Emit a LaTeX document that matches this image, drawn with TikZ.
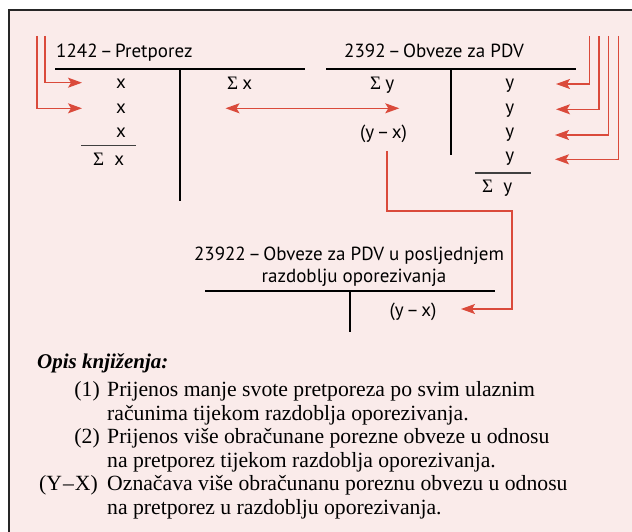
\documentclass[tikz,border=0pt]{standalone}
\usepackage{fontspec}
\setmainfont{Liberation Serif}
\newfontfamily\acctfont{PT Sans}
\newfontfamily\sigmafont{Liberation Serif}
\usetikzlibrary{arrows.meta}
\definecolor{paper}{HTML}{FAEBEA}
\definecolor{flow}{HTML}{DA4A3B}
\newcommand{\sgm}{{\sigmafont Σ}}
% tight en dash used in the account headings
\newcommand{\dsh}{\hspace{2.5pt}–\hspace{2.5pt}}

\begin{document}
\begin{tikzpicture}[x=1pt,y=-1pt,
  acct/.style={font=\acctfont\fontsize{19}{22}\selectfont, inner sep=0pt, anchor=base},
  ruling/.style={line width=1.9pt, black},
  sumrule/.style={line width=1.2pt, black!75},
  flowline/.style={draw=flow, line width=1.3pt},
  flowtip/.style={-{Stealth[length=14pt,width=10pt,inset=3pt]}},
  flowarrow/.style={flowline, flowtip},
  note/.style={font=\fontsize{21.7}{23.5}\selectfont, inner sep=0pt, anchor=base west},
]
\useasboundingbox (0,0) rectangle (632,532);
\fill[white] (0,0) rectangle (632,532);
\fill[paper] (9,10) rectangle (632,532);
\draw[line width=1.2pt, black!85] (9,532) -- (9,10) -- (632,10);

% ---- account 1242 ----
\node[acct, anchor=base west] (t1242) at (56,58) {1242\dsh Pretporez};
\draw[ruling] (55,69) -- (305,69);
\draw[ruling] (180,69) -- (180,201);
\node[acct] (x1) at (121,89) {x};
\node[acct] (x2) at (121,113.5) {x};
\node[acct] (x3) at (121,138) {x};
\draw[sumrule] (81,145.5) -- (136,145.5);
\node[acct, anchor=base west] (sumx) at (93,165) {\sgm\hspace{10pt}x};
\node[acct, anchor=base west] (credx) at (227,90) {\sgm\hspace{4pt}x};

% ---- account 2392 ----
\node[acct, anchor=base west] (t2392) at (344,58) {2392\dsh Obveze za PDV};
\draw[ruling] (326,69) -- (576,69);
\draw[ruling] (451,69) -- (451,155);
\node[acct, anchor=base west] (debity) at (370,90) {\sgm\hspace{4pt}y};
\node[acct] (diff) at (383.5,139) {(y\dsh x)};
\node[acct] (y1) at (509.7,89) {y};
\node[acct] (y2) at (509.7,113.5) {y};
\node[acct] (y3) at (509.7,138) {y};
\node[acct] (y4) at (509.7,162) {y};
\draw[sumrule] (475,173) -- (531,173);
\node[acct, anchor=base west] (sumy) at (482,193) {\sgm\hspace{10pt}y};

% ---- account 23922 ----
\node[acct] (t23922a) at (349,260) {23922\dsh Obveze za PDV u posljednjem};
\node[acct] (t23922b) at (354,282) {razdoblju oporezivanja};
\draw[ruling] (205,291) -- (495,291);
\draw[ruling] (350,291) -- (350,332);
\node[acct] (diff2) at (413,316) {(y\dsh x)};

% ---- flows ----
\coordinate (inA) at (37,36);   \coordinate (tipA) at (82,108.3);
\coordinate (inB) at (45,36);   \coordinate (tipB) at (82,82.7);
\draw[flowarrow] (inA) |- (tipA);
\draw[flowarrow] (inB) |- (tipB);

\coordinate (inC) at (589.3,36); \coordinate (tipC) at (556,84);
\coordinate (inD) at (599,36);   \coordinate (tipD) at (556,109.3);
\coordinate (inE) at (608.7,36); \coordinate (tipE) at (555,135);
\coordinate (inF) at (618.7,36); \coordinate (tipF) at (555,159.3);
\draw[flowarrow] (inC) |- (tipC);
\draw[flowarrow] (inD) |- (tipD);
\draw[flowarrow] (inE) |- (tipE);
\draw[flowarrow] (inF) |- (tipF);

\coordinate (swapL) at (225.5,108.3); \coordinate (swapR) at (399.3,108.3);
\draw[flowline, {Stealth[length=14pt,width=10pt,inset=3pt]}-{Stealth[length=14pt,width=10pt,inset=3pt]}] (swapL) -- (swapR);

\coordinate (diffout) at (387,151);
\coordinate (bend) at (512,211);
\coordinate (diffin) at (461,309);
\draw[flowarrow] (diffout) |- (bend) |- (diffin);

% ---- description ----
\node[note, font=\bfseries\itshape\fontsize{21}{24}\selectfont] (opis) at (37,368) {Opis knjiženja:};
\node[note, anchor=base east] (lab1) at (100,396.7) {(1)};
\node[note] (d1a) at (107,396.7) {Prijenos manje svote pretporeza po svim ulaznim};
\node[note] (d1b) at (107,420.2) {računima tijekom razdoblja oporezivanja.};
\node[note, anchor=base east] (lab2) at (100,443.7) {(2)};
\node[note] (d2a) at (107,443.7) {Prijenos više obračunane porezne obveze u odnosu};
\node[note] (d2b) at (107,467.2) {na pretporez tijekom razdoblja oporezivanja.};
\node[note, anchor=base east] (lab3) at (98,490.7) {(Y\kern1pt–\kern1ptX)};
\node[note] (d3a) at (107,490.7) {Označava više obračunanu poreznu obvezu u odnosu};
\node[note] (d3b) at (107,514.2) {na pretporez u razdoblju oporezivanja.};
\end{tikzpicture}
\end{document}
